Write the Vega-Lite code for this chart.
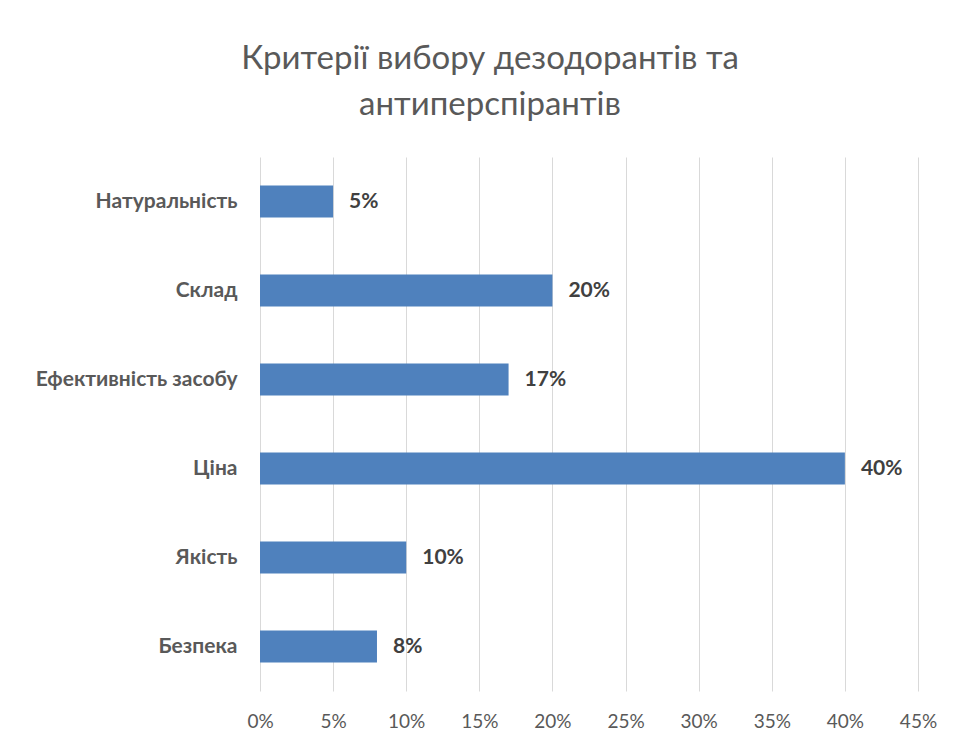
{
  "$schema": "https://vega.github.io/schema/vega-lite/v6.json",
  "autosize": {"type": "none"},
  "padding": {"left": 260, "top": 157, "right": 38, "bottom": 54},
  "width": 658,
  "height": 534,
  "background": "white",
  "title": {
    "text": ["Критерії вибору дезодорантів та", "антиперспірантів"],
    "font": "Lato",
    "fontSize": 33,
    "fontWeight": "normal",
    "color": "#595959",
    "anchor": "middle",
    "frame": "group",
    "dx": -99,
    "lineHeight": 46,
    "offset": 35
  },
  "data": {
    "values": [
      {"criterion": "Натуральність", "share": 0.05},
      {"criterion": "Склад", "share": 0.20},
      {"criterion": "Ефективність засобу", "share": 0.17},
      {"criterion": "Ціна", "share": 0.40},
      {"criterion": "Якість", "share": 0.10},
      {"criterion": "Безпека", "share": 0.08}
    ]
  },
  "encoding": {
    "y": {
      "field": "criterion",
      "type": "nominal",
      "sort": null,
      "scale": {"paddingInner": 0.64, "paddingOuter": 0.32},
      "axis": {
        "title": null,
        "domain": false,
        "ticks": false,
        "labelFont": "Lato",
        "labelFontSize": 21,
        "labelFontWeight": "bold",
        "labelColor": "#595959",
        "labelPadding": 23,
        "labelLimit": 400
      }
    },
    "x": {
      "field": "share",
      "type": "quantitative",
      "scale": {"domain": [0, 0.45], "nice": false},
      "axis": {
        "title": null,
        "format": ".0%",
        "values": [0, 0.05, 0.1, 0.15, 0.2, 0.25, 0.3, 0.35, 0.4, 0.45],
        "domain": false,
        "ticks": false,
        "grid": true,
        "gridColor": "#d9d9d9",
        "gridWidth": 1,
        "labelFont": "Lato",
        "labelFontSize": 19,
        "labelColor": "#595959",
        "labelPadding": 21,
        "labelFlush": false,
        "labelOverlap": false
      }
    }
  },
  "layer": [
    {"mark": {"type": "bar", "color": "#4f81bd"}},
    {
      "mark": {
        "type": "text",
        "align": "left",
        "baseline": "middle",
        "dx": 16,
        "font": "Lato",
        "fontSize": 21,
        "fontWeight": "bold",
        "color": "#404040"
      },
      "encoding": {"text": {"field": "share", "type": "quantitative", "format": ".0%"}}
    }
  ],
  "config": {"view": {"stroke": null}}
}
